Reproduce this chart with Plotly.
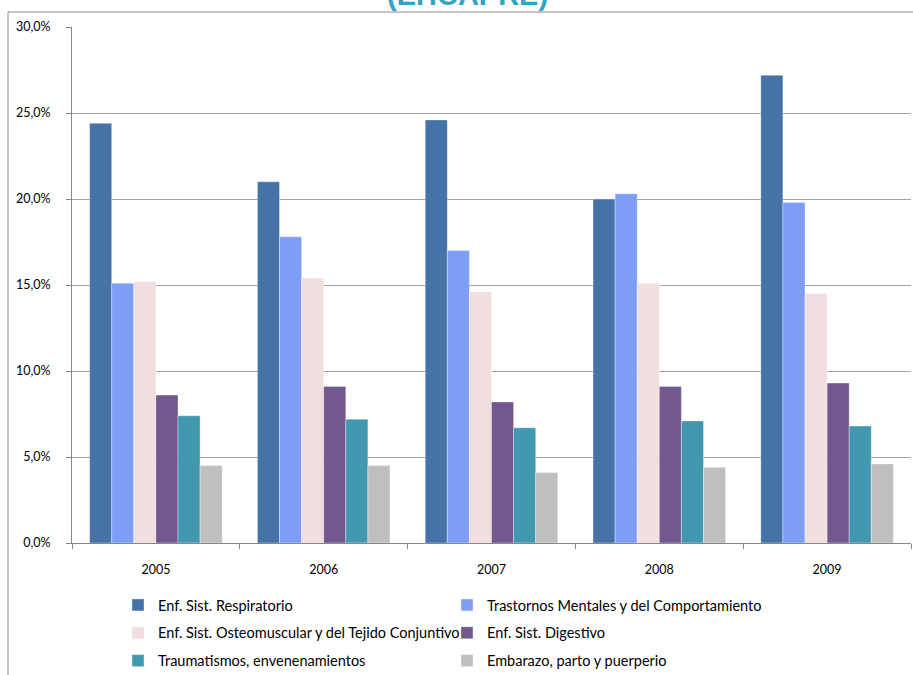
import plotly.graph_objects as go

# Years on the category axis
years = ["2005", "2006", "2007", "2008", "2009"]

# Share of cases per diagnostic group (percent)
respiratorio = [24.4, 21.0, 24.6, 20.0, 27.2]
mentales = [15.1, 17.8, 17.0, 20.3, 19.8]
osteomuscular = [15.2, 15.4, 14.6, 15.1, 14.5]
digestivo = [8.6, 9.1, 8.2, 9.1, 9.3]
traumatismos = [7.4, 7.2, 6.7, 7.1, 6.8]
embarazo = [4.5, 4.5, 4.1, 4.4, 4.6]

series_names = [
    "Enf. Sist. Respiratorio",
    "Trastornos Mentales y del Comportamiento",
    "Enf. Sist. Osteomuscular y del Tejido Conjuntivo",
    "Enf. Sist. Digestivo",
    "Traumatismos, envenenamientos",
    "Embarazo, parto y puerperio",
]
series_values = [respiratorio, mentales, osteomuscular, digestivo, traumatismos, embarazo]
series_colors = ["#4572A7", "#7E9EF5", "#F2DEDF", "#71588F", "#4198AF", "#BFBFBF"]
# left legend column holds the 1st, 3rd and 5th series, right column the others
legend_ids = ["legend", "legend2", "legend", "legend2", "legend", "legend2"]

y_ticks = [0, 5, 10, 15, 20, 25, 30]
y_tick_labels = ["0,0%", "5,0%", "10,0%", "15,0%", "20,0%", "25,0%", "30,0%"]

title_text = "(EHCAPRE)"

FONT = "Lato, Liberation Sans, sans-serif"

fig = go.Figure()
for i, (name, vals, col, lg) in enumerate(zip(series_names, series_values, series_colors, legend_ids)):
    fig.add_trace(go.Bar(
        x=years, y=vals, name=name,
        marker=dict(color=col, line=dict(color="rgba(255,255,255,0.45)", width=0.8)),
        legend=lg, legendgroup=f"g{i}",
        hoverinfo="x+y+name",
    ))

W, H = 913, 675
ml, mr, mt, mb = 72, 2, 27, 132
plot_h = H - mt - mb
plot_w = W - ml - mr

def px_to_paper_y(py):
    return (H - mb - py) / plot_h

def px_to_paper_x(px):
    return (px - ml) / plot_w

legend_common = dict(
    orientation="v", yanchor="top", xanchor="left",
    bgcolor="rgba(0,0,0,0)", borderwidth=0,
    font=dict(family=FONT, size=14.5, color="#000000"),
    tracegroupgap=6, itemclick=False, itemdoubleclick=False,
)

fig.update_layout(
    width=W, height=H,
    margin=dict(l=ml, r=mr, t=mt, b=mb, autoexpand=False),
    paper_bgcolor="white", plot_bgcolor="white",
    barmode="group", bargap=0.21, bargroupgap=0,
    font=dict(family=FONT, size=12, color="#000000"),
    showlegend=True,
    legend=dict(x=px_to_paper_x(118), y=px_to_paper_y(589), **legend_common),
    legend2=dict(x=px_to_paper_x(447), y=px_to_paper_y(589), **legend_common),
    xaxis=dict(
        type="category", showline=True, linecolor="#868686", linewidth=1,
        ticks="outside", tickson="boundaries", ticklen=5, tickcolor="#868686",
        tickfont=dict(family=FONT, size=12.5, color="#000000"),
        ticklabelstandoff=15, showgrid=False, zeroline=False,
    ),
    yaxis=dict(
        range=[0, 30], tickvals=y_ticks, ticktext=y_tick_labels,
        showline=True, linecolor="#868686", linewidth=1,
        ticks="outside", ticklen=5, tickcolor="#868686",
        tickfont=dict(family=FONT, size=12.5, color="#000000"),
        ticklabelstandoff=13,
        showgrid=True, gridcolor="#A2A2A2", gridwidth=1.2, zeroline=False,
    ),
    annotations=[dict(
        text=f"<b>{title_text}</b>", xref="paper", yref="paper",
        x=px_to_paper_x(467), y=px_to_paper_y(13), xanchor="center", yanchor="bottom",
        showarrow=False, font=dict(family="Liberation Sans, Arial, sans-serif", size=29, color="#31A3C3"),
    )],
    shapes=[dict(
        type="rect", xref="paper", yref="paper",
        x0=px_to_paper_x(8), x1=px_to_paper_x(930), y0=px_to_paper_y(700), y1=px_to_paper_y(12),
        line=dict(color="#8C8C8C", width=1), fillcolor="rgba(0,0,0,0)", layer="below",
    )],
)

fig.write_html("out.html")
